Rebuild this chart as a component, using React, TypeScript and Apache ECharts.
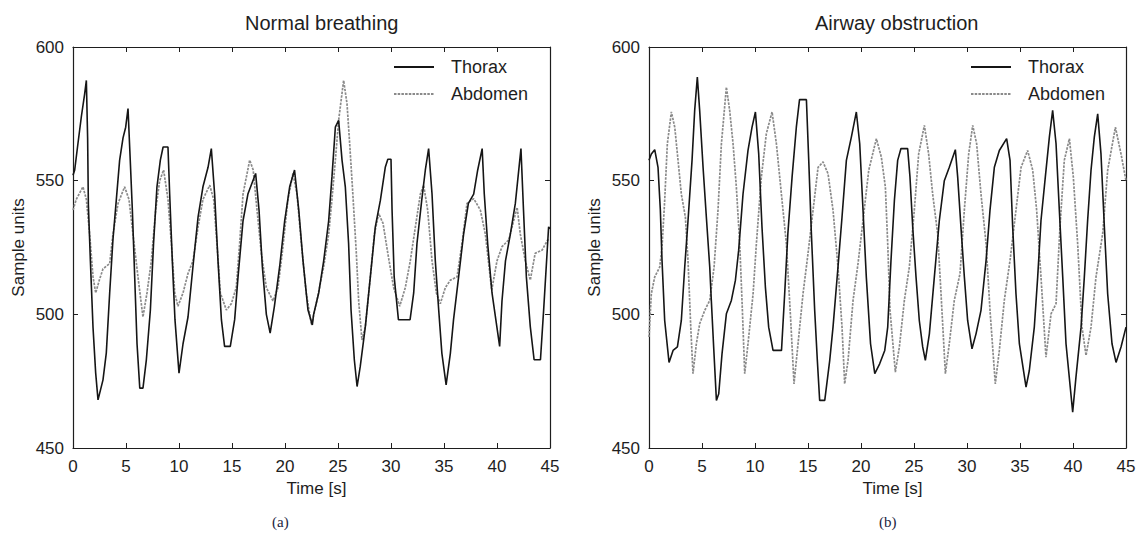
import React, { useEffect, useRef } from "react";
import * as echarts from "echarts";

// [time s, sample units]
const normalThorax: [number, number][] = [
  [0, 552], [0.16, 554], [0.47, 564], [0.79, 574], [1.1, 582.5], [1.26, 587.5], [1.38, 566], [1.45, 541], [1.64, 520], [1.89, 495], [2.14, 478], [2.36, 468], [2.83, 475.5], [3.14, 485.5], [3.46, 508], [3.77, 528], [4.09, 543], [4.4, 557.7], [4.72, 566], [4.97, 570], [5.19, 577], [5.4, 557.7], [5.6, 539], [5.82, 514], [6.04, 489], [6.3, 472.4], [6.6, 472.4], [6.92, 483], [7.3, 501.6], [7.6, 526.5], [7.92, 547.7], [8.24, 557.7], [8.5, 562.6], [8.96, 562.6], [9.12, 545], [9.37, 520], [9.62, 498], [10.0, 478], [10.38, 489], [10.85, 499], [11.32, 518], [11.8, 536.5], [12.26, 547.7], [12.74, 555], [13.05, 562], [13.36, 545], [13.68, 520], [14.0, 498], [14.3, 488], [14.84, 488], [15.25, 498], [15.57, 514], [16.04, 535], [16.5, 545], [17.23, 552.7], [17.55, 539], [17.86, 518], [18.24, 500], [18.6, 493], [19.0, 503], [19.5, 518], [19.97, 535], [20.44, 547.7], [20.9, 554], [21.3, 539], [21.7, 520], [22.17, 501.6], [22.58, 496], [22.7, 500], [23.18, 508], [23.65, 520], [24.12, 535], [24.43, 551.4], [24.75, 570], [25.06, 572.6], [25.38, 557.7], [25.69, 547.7], [26.0, 526.5], [26.23, 501.6], [26.54, 483], [26.8, 473], [27.1, 480.5], [27.58, 495.4], [28.05, 514], [28.52, 532.7], [29.0, 542.7], [29.46, 555], [29.7, 558], [30.0, 558], [30.1, 539], [30.3, 514], [30.7, 498], [31.8, 498], [32.14, 508], [32.45, 526.5], [32.9, 542.7], [33.24, 554], [33.55, 562], [33.87, 545], [34.18, 520], [34.5, 501.6], [34.8, 485.4], [35.2, 473.6], [35.6, 485.4], [35.9, 498], [36.38, 514], [36.85, 530], [37.3, 541.5], [37.8, 545], [38.18, 554], [38.6, 562], [38.8, 545], [39.12, 526.5], [39.53, 508], [40.25, 488], [40.47, 505], [40.8, 520], [41.26, 530], [41.73, 541.5], [42.26, 562], [42.5, 539], [42.77, 514], [43.14, 495.4], [43.5, 483], [44.1, 483], [44.4, 501.6], [44.87, 532.7], [45, 532]
];

const normalAbdomen: [number, number][] = [
  [0, 539], [0.31, 543], [0.94, 547.7], [1.26, 543], [1.57, 530], [1.89, 514], [2.14, 508], [2.5, 513], [2.83, 517], [3.46, 519], [3.77, 530], [4.25, 541.5], [4.87, 547.7], [5.28, 543], [5.66, 530], [6.13, 514], [6.6, 499], [6.98, 508], [7.39, 520], [7.8, 539], [8.18, 550], [8.55, 554], [8.96, 543], [9.28, 526.5], [9.6, 508], [9.9, 503], [10.38, 508], [10.85, 515.3], [11.32, 520], [11.8, 532.7], [12.26, 543], [12.9, 548.3], [13.27, 543], [13.58, 526.5], [13.9, 508], [14.47, 501.6], [14.94, 504], [15.4, 510], [15.72, 526.5], [16.04, 545], [16.67, 557.7], [17.0, 554], [17.3, 541.5], [17.77, 522.8], [18.24, 510], [18.87, 505], [19.34, 510], [19.8, 525], [20.28, 543], [20.75, 552.7], [21.13, 545], [21.54, 526.5], [22.0, 508], [22.5, 496], [23.0, 505], [23.65, 517.8], [24.12, 530], [24.43, 543], [24.75, 557.7], [25.06, 572.6], [25.53, 587.5], [25.85, 578.8], [26.1, 564], [26.4, 545], [26.73, 522.8], [26.95, 505], [27.26, 490.4], [27.58, 495.4], [28.05, 514], [28.43, 530], [28.84, 537.7], [29.25, 534], [29.7, 522.8], [30.25, 510], [30.82, 503], [31.35, 510], [31.82, 520], [32.3, 532.7], [32.77, 545], [33.08, 548.3], [33.46, 539], [33.87, 520], [34.28, 508], [34.65, 504], [35.13, 510], [35.6, 512.8], [36.23, 514], [36.7, 526.5], [37.17, 541.5], [37.8, 543.3], [38.43, 539], [38.9, 530], [39.5, 509], [40.0, 520], [40.47, 525.3], [41.1, 527.8], [41.9, 540], [42.2, 530], [42.67, 520], [43.14, 512.8], [43.6, 522.8], [44.25, 524], [44.78, 527.8], [45, 528]
];

const obstructedThorax: [number, number][] = [
  [0, 557.6], [0.22, 560], [0.54, 561.6], [0.85, 555], [1.07, 539], [1.23, 520], [1.48, 497.7], [1.89, 482], [2.27, 486.5], [2.68, 487.8], [3.05, 497.7], [3.37, 517.7], [3.68, 535], [4.06, 557.6], [4.31, 576.3], [4.56, 588.8], [4.78, 576.3], [5.1, 555], [5.41, 536.4], [5.73, 517.7], [5.88, 505.2], [6.1, 487.8], [6.36, 467.8], [6.58, 470.3], [6.89, 485.3], [7.3, 500.2], [7.77, 505.2], [8.15, 512.7], [8.46, 524], [8.87, 545], [9.34, 561.3], [9.72, 570], [10.04, 575.7], [10.35, 560], [10.66, 532.6], [10.98, 510.2], [11.29, 495.2], [11.7, 486.5], [12.5, 486.5], [12.8, 507.7], [13.1, 530.2], [13.5, 551.4], [13.9, 570], [14.2, 580.3], [14.85, 580.3], [15.07, 557.6], [15.32, 530.2], [15.63, 501.5], [15.88, 482.8], [16.1, 467.8], [16.58, 467.8], [17.05, 482.8], [17.36, 495.2], [17.83, 517.7], [18.21, 536.4], [18.62, 557.6], [19.09, 566.3], [19.56, 575.7], [19.88, 563.8], [20.19, 539], [20.5, 514], [20.9, 489], [21.3, 477.8], [21.76, 481.5], [22.24, 486.5], [22.52, 495.2], [22.83, 520.2], [23.15, 542.6], [23.46, 557.6], [23.77, 562], [24.4, 562], [24.62, 551.4], [24.88, 532.6], [25.19, 514], [25.5, 497.7], [25.82, 487.8], [26.07, 482.8], [26.45, 492.7], [26.92, 514], [27.39, 535.1], [27.86, 550], [28.33, 555], [28.9, 561.6], [29.12, 551.4], [29.43, 532.6], [29.75, 514], [30.06, 497.7], [30.47, 487.1], [30.85, 492.7], [31.32, 501.5], [31.8, 520.2], [32.17, 539], [32.58, 555], [33.05, 561.3], [33.74, 565.7], [34.06, 557.6], [34.31, 532.6], [34.62, 507.7], [34.94, 489], [35.57, 472.8], [35.88, 479], [36.35, 495.2], [36.67, 514], [36.98, 535.1], [37.39, 551.4], [37.77, 566.3], [38.08, 576.3], [38.4, 563.8], [38.71, 539], [39.03, 514], [39.34, 489], [39.97, 463.4], [40.28, 476.5], [40.76, 495.2], [41.07, 514], [41.38, 535.1], [41.7, 553.9], [42.01, 566.3], [42.33, 575], [42.64, 560], [42.96, 532.6], [43.27, 507.7], [43.68, 489], [44.06, 482], [44.53, 487.8], [45, 495.2]
];

const obstructedAbdomen: [number, number][] = [
  [0, 491.5], [0.22, 507.7], [0.54, 514], [1.01, 517.7], [1.23, 525.2], [1.48, 542.6], [1.73, 563.8], [2.11, 575.7], [2.43, 570], [2.74, 557.6], [3.05, 545], [3.43, 536.4], [3.68, 520.2], [3.94, 495.2], [4.15, 477.8], [4.47, 489], [4.78, 496.5], [5.26, 501.5], [5.73, 505.2], [6.14, 517.7], [6.51, 539], [6.83, 563.8], [7.3, 585], [7.61, 576.3], [7.93, 563.8], [8.24, 547.6], [8.56, 526.4], [8.81, 501.5], [9.03, 477.8], [9.34, 489], [9.82, 507.7], [10.13, 526.4], [10.6, 551.4], [11.07, 567.6], [11.61, 575.7], [12.02, 563.8], [12.49, 545], [12.96, 526.4], [13.37, 497.7], [13.68, 474], [14.06, 489], [14.53, 507.7], [15.0, 522.7], [15.48, 539], [15.95, 555], [16.42, 557], [16.89, 552.6], [17.36, 539], [17.83, 517.7], [18.21, 495.2], [18.46, 474], [18.78, 482.8], [19.25, 505.2], [19.72, 519], [20.19, 535.1], [20.73, 553.9], [21.45, 565.7], [21.92, 558.8], [22.3, 547.6], [22.52, 526.4], [22.74, 501.5], [23.24, 478.4], [23.62, 487.8], [24.09, 505.2], [24.56, 517.7], [25.03, 539], [25.44, 560], [25.98, 570.7], [26.38, 560], [26.76, 545], [27.23, 530.2], [27.55, 507.7], [27.96, 477.8], [28.33, 489], [28.8, 505.2], [29.34, 515.2], [29.75, 539], [30.16, 560], [30.54, 570.7], [30.91, 563.8], [31.32, 545], [31.8, 526.4], [32.17, 501.5], [32.67, 474], [33.05, 486.5], [33.52, 505.2], [34.06, 520.2], [34.62, 539], [35.1, 555], [35.72, 561.3], [36.2, 553.9], [36.57, 539], [36.98, 514], [37.45, 484], [37.93, 500.2], [38.4, 504], [38.77, 532.6], [39.18, 557.6], [39.66, 565.7], [40.03, 551.4], [40.44, 526.4], [40.85, 495.2], [41.23, 484.6], [41.7, 495.2], [42.17, 514], [42.8, 530.2], [43.27, 553.9], [44.0, 570], [44.53, 560], [45, 550]
];

const panelTitles = ["Normal breathing", "Airway obstruction"];
const panelLetters = ["(a)", "(b)"];
const seriesNames = ["Thorax", "Abdomen"];
const xTicks = { min: 0, max: 45, interval: 5 };
const yTicks = { min: 450, max: 600, interval: 50 };

const FONT = "'Liberation Sans', Arial, Helvetica, sans-serif";
const INK = "#1e1e1e";

export default function App() {
  const ref = useRef<HTMLDivElement>(null);

  useEffect(() => {
    if (!ref.current) return;
    const chart = echarts.init(ref.current, null, { renderer: "svg" });

    const grids = [
      { left: 73, top: 47, width: 477, height: 401 },
      { left: 649, top: 47, width: 477, height: 401 },
    ];
    const data = [
      [normalThorax, normalAbdomen],
      [obstructedThorax, obstructedAbdomen],
    ];

    const xAxes: any[] = [];
    const yAxes: any[] = [];
    grids.forEach((_, i) => {
      const tick = { show: true, inside: true, length: 5, lineStyle: { color: INK, width: 1 } };
      const line = { show: true, onZero: false, lineStyle: { color: INK, width: 1.2 } };
      xAxes.push({
        gridIndex: i, type: "value", position: "bottom", ...xTicks,
        axisLine: line, axisTick: tick, splitLine: { show: false },
        axisLabel: { fontFamily: FONT, fontSize: 17, color: INK, margin: 10 },
        name: "Time [s]", nameLocation: "middle", nameGap: 27,
        nameTextStyle: { fontFamily: FONT, fontSize: 17, color: INK, padding: [0, 0, 0, 10] },
      });
      xAxes.push({
        gridIndex: i, type: "value", position: "top", ...xTicks,
        axisLine: line, axisTick: tick, splitLine: { show: false },
        axisLabel: { show: false },
      });
      yAxes.push({
        gridIndex: i, type: "value", position: "left", ...yTicks,
        axisLine: line, axisTick: tick, splitLine: { show: false },
        axisLabel: { fontFamily: FONT, fontSize: 17, color: INK, margin: 9 },
        name: "Sample units", nameLocation: "middle", nameGap: 46,
        nameTextStyle: { fontFamily: FONT, fontSize: 17, color: INK },
      });
      yAxes.push({
        gridIndex: i, type: "value", position: "right", ...yTicks,
        axisLine: line, axisTick: tick, splitLine: { show: false },
        axisLabel: { show: false },
      });
    });

    const series: any[] = [];
    data.forEach((pair, i) => {
      series.push({
        name: seriesNames[0], type: "line", xAxisIndex: i * 2, yAxisIndex: i * 2,
        data: pair[0], showSymbol: false, symbol: "none",
        lineStyle: { color: "#151515", width: 1.6 }, itemStyle: { color: "#151515" },
        z: 3,
      });
      series.push({
        name: seriesNames[1], type: "line", xAxisIndex: i * 2, yAxisIndex: i * 2,
        data: pair[1], showSymbol: false, symbol: "none",
        lineStyle: { color: "#8a8a8a", width: 1.7, type: [2.5, 1.2] }, itemStyle: { color: "#8a8a8a" },
        z: 2,
      });
    });

    const legendBase = {
      data: seriesNames, orient: "vertical", itemWidth: 40, itemHeight: 14, itemGap: 9,
      selectedMode: false, padding: 0,
      itemStyle: { opacity: 0 },
      textStyle: { fontFamily: FONT, fontSize: 18, color: INK, padding: [0, 0, 0, 12] },
    };

    chart.setOption({
      animation: false,
      backgroundColor: "#ffffff",
      title: [
        { text: panelTitles[0], left: 245, top: 13, padding: 0, textStyle: { fontFamily: FONT, fontSize: 20, fontWeight: "normal", color: INK } },
        { text: panelTitles[1], left: 815, top: 13, padding: 0, textStyle: { fontFamily: FONT, fontSize: 20, fontWeight: "normal", color: INK } },
      ],
      legend: [
        { ...legendBase, left: 393, top: 58 },
        { ...legendBase, left: 970, top: 58 },
      ],
      grid: grids,
      xAxis: xAxes,
      yAxis: yAxes,
      series,
      graphic: [
        { type: "text", left: 272, top: 514, style: { text: panelLetters[0], font: "15px 'Liberation Serif', 'Times New Roman', serif", fill: "#1c2440" } },
        { type: "text", left: 879, top: 514, style: { text: panelLetters[1], font: "15px 'Liberation Serif', 'Times New Roman', serif", fill: "#1c2440" } },
      ],
    });

    return () => chart.dispose();
  }, []);

  return <div ref={ref} style={{ position: "absolute", left: 0, top: 0, width: 1141, height: 534 }} />;
}
